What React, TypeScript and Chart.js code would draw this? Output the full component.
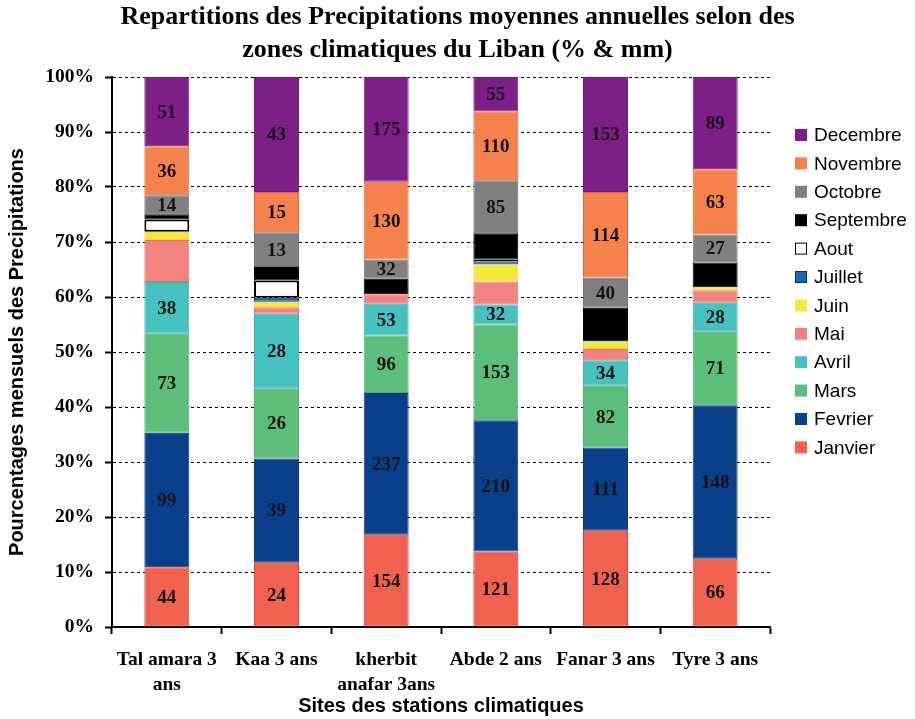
import React, { useEffect, useRef } from 'react';
import { Chart, registerables, layouts } from 'chart.js';

Chart.register(...registerables);

// ---- data ----
const stations: (string | string[])[] = [
  ['Tal amara 3', 'ans'],
  'Kaa 3 ans',
  ['kherbit', 'anafar 3ans'],
  'Abde 2 ans',
  'Fanar 3 ans',
  'Tyre 3 ans',
];

const months = ['Janvier', 'Fevrier', 'Mars', 'Avril', 'Mai', 'Juin', 'Juillet', 'Aout', 'Septembre', 'Octobre', 'Novembre', 'Decembre'];

// mean monthly precipitation (mm) per station
const janvier = [44, 24, 154, 121, 128, 66];
const fevrier = [99, 39, 237, 210, 111, 148];
const mars = [73, 26, 96, 153, 82, 71];
const avril = [38, 28, 53, 32, 34, 28];
const mai = [31, 2.5, 16, 37, 15, 12];
const juin = [6, 2, 0, 27, 10, 3];
const juillet = [0, 1.5, 0, 5, 2, 0];
const aout = [9, 6.5, 0, 3, 0, 0];
const septembre = [4, 5, 26, 42, 43, 24];
const octobre = [14, 13, 32, 85, 40, 27];
const novembre = [36, 15, 130, 110, 114, 63];
const decembre = [51, 43, 175, 55, 153, 89];

const monthValues = [janvier, fevrier, mars, avril, mai, juin, juillet, aout, septembre, octobre, novembre, decembre];

// months whose mm value is written on the bar
const labeledMonths = ['Janvier', 'Fevrier', 'Mars', 'Avril', 'Octobre', 'Novembre', 'Decembre'];

const fillColors = ['#F0614F', '#0A3F8C', '#5DBD7A', '#47C1C0', '#F2837F', '#F4E93B', '#1A6CB2', '#FFFFFF', '#000000', '#808080', '#F5824D', '#7E1F87'];
const edgeColors = ['#E8383F', '#0A3378', '#4EAE6B', '#3CB0B0', '#E9706E', '#E6DA2A', '#0B2E5C', '#000000', '#000000', '#707070', '#E8623A', '#6E1877'];

const titleLines = [
  'Repartitions des Precipitations moyennes annuelles selon des',
  'zones climatiques du Liban (% & mm)',
];
const yAxisTitle = 'Pourcentages mensuels des Precipitations';
const xAxisTitle = 'Sites des stations climatiques';

const SERIF = "'Liberation Serif', 'Times New Roman', serif";
const SANS = "'Liberation Sans', Arial, sans-serif";

const sideLegend = {
  id: 'sideLegend',
  beforeInit(chart: any) {
    const box: any = {
      position: 'right',
      weight: 10,
      fullSize: false,
      options: {},
      left: 0, top: 0, right: 0, bottom: 0, width: 0, height: 0,
      isHorizontal: () => false,
      update(_maxWidth: number, maxHeight: number) {
        box.width = 145;
        box.height = maxHeight;
      },
      draw() {
        const ctx = chart.ctx;
        const ds = chart.data.datasets;
        ctx.save();
        ctx.font = `19px ${SANS}`;
        ctx.textBaseline = 'middle';
        ctx.textAlign = 'left';
        let row = 0;
        for (let i = ds.length - 1; i >= 0; i--, row++) {
          const y = box.top + 58 + row * 28.4;
          const x = box.left + 25;
          ctx.fillStyle = ds[i].backgroundColor;
          ctx.fillRect(x, y - 6, 12, 12);
          if (ds[i].label === 'Aout' || ds[i].label === 'Juillet') {
            ctx.strokeStyle = ds[i].borderColor;
            ctx.lineWidth = 1;
            ctx.strokeRect(x + 0.5, y - 5.5, 11, 11);
          }
          ctx.fillStyle = '#000';
          ctx.fillText(ds[i].label, x + 19, y + 1);
        }
        ctx.restore();
      },
    };
    layouts.addBox(chart, box);
  },
};

const valueLabels = {
  id: 'valueLabels',
  afterDatasetsDraw(chart: any) {
    const ctx = chart.ctx;
    ctx.save();
    ctx.font = `bold 19px ${SERIF}`;
    ctx.textAlign = 'center';
    ctx.textBaseline = 'middle';
    ctx.fillStyle = '#141414';
    chart.data.datasets.forEach((ds: any, di: number) => {
      if (!labeledMonths.includes(ds.label)) return;
      const meta = chart.getDatasetMeta(di);
      meta.data.forEach((bar: any, i: number) => {
        const mm = ds.mm[i];
        if (!mm) return;
        const { x, y, base } = bar.getProps(['x', 'y', 'base'], true);
        ctx.fillText(String(mm), x, (y + base) / 2 + 1);
      });
    });
    ctx.restore();
  },
};

export default function App() {
  const ref = useRef<HTMLCanvasElement | null>(null);

  useEffect(() => {
    document.body.style.margin = '0';
    const canvas = ref.current;
    if (!canvas) return;

    const totals = stations.map((_, s) => monthValues.reduce((acc, arr) => acc + arr[s], 0));

    const datasets: any[] = months.map((m, mi) => ({
      label: m,
      mm: monthValues[mi],
      data: monthValues[mi].map((v, s) => (v > 0 ? (v / totals[s]) * 100 : null)),
      backgroundColor: fillColors[mi],
      borderColor: edgeColors[mi],
      borderWidth: m === 'Aout' ? 2 : 1,
      borderSkipped: false,
      barPercentage: 0.41,
      categoryPercentage: 1.0,
    }));

    const chart = new Chart(canvas, {
      type: 'bar',
      data: { labels: stations as any, datasets },
      options: {
        responsive: false,
        animation: false,
        layout: { padding: 0 },
        plugins: {
          legend: { display: false },
          tooltip: { enabled: false },
          title: {
            display: true,
            text: titleLines,
            color: '#000',
            font: { family: SERIF, size: 26, weight: 'bold', lineHeight: 33 / 26 },
            padding: { top: 1, bottom: 10 },
          },
        },
        scales: {
          x: {
            stacked: true,
            grid: {
              display: true,
              drawOnChartArea: false,
              drawTicks: true,
              tickLength: 7,
              offset: true,
              color: '#000',
              tickColor: '#000',
              tickWidth: 2,
            },
            border: { display: true, color: '#000', width: 2 },
            ticks: {
              color: '#000',
              font: { family: SERIF, size: 19.5, weight: 'bold', lineHeight: 25 / 19.5 },
              padding: 13,
              maxRotation: 0,
              minRotation: 0,
              autoSkip: false,
            },
            title: {
              display: true,
              text: xAxisTitle,
              color: '#000',
              font: { family: SANS, size: 20, weight: 'bold', lineHeight: 1.2 },
              padding: { top: 0, bottom: 1 },
            },
            afterFit: (s: any) => {
              s.height = 92;
            },
          } as any,
          y: {
            stacked: true,
            min: 0,
            max: 100,
            grid: {
              display: true,
              drawOnChartArea: true,
              drawTicks: true,
              tickLength: 7,
              color: '#000',
              lineWidth: 1,
              tickColor: '#000',
              tickWidth: 2,
            },
            border: { display: true, color: '#000', width: 2, dash: [3, 3] },
            ticks: {
              stepSize: 10,
              color: '#000',
              font: { family: SERIF, size: 19.5, weight: 'bold' },
              padding: 11,
              callback: (v: any) => `${v}%`,
            },
            title: {
              display: true,
              text: yAxisTitle,
              color: '#000',
              font: { family: SANS, size: 20, weight: 'bold', lineHeight: 1.2 },
              padding: { top: 5, bottom: 0 },
            },
            afterFit: (s: any) => {
              s.width = 112;
            },
          } as any,
        },
      },
      plugins: [sideLegend as any, valueLabels as any],
    });

    return () => {
      chart.destroy();
    };
  }, []);

  return (
    <div style={{ width: 915, height: 719, background: '#fff' }}>
      <canvas ref={ref} width={915} height={719} style={{ display: 'block' }} />
    </div>
  );
}
